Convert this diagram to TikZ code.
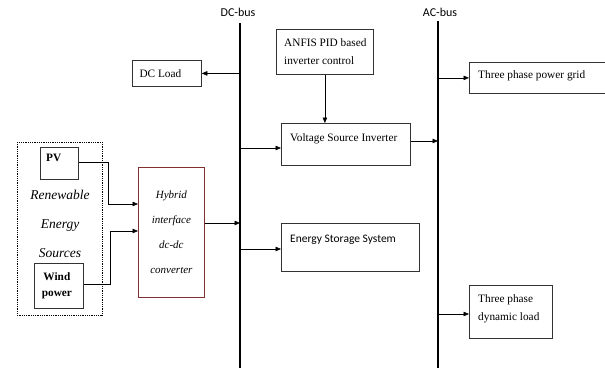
\documentclass[tikz,border=0pt]{standalone}
\usepackage{fontspec}
\setmainfont{Liberation Serif}
\newfontfamily\busfont{Carlito}
\usepackage{tikz,xcolor}
\usetikzlibrary{arrows.meta,calc}
\definecolor{convred}{RGB}{128,48,48}

\begin{document}
\begin{tikzpicture}[x=1pt,y=-1pt,font=\fontsize{11.3}{12.5}\selectfont]
  \useasboundingbox (0,0) rectangle (605,368);
  % Define box and arrow styles
  \tikzset{blockbox/.style={draw=black!80, thick, inner sep=0pt, anchor=north west}}
  \tikzset{busline/.style={black, line width=1.5pt}}
  \tikzset{flow/.style={black, semithick, -{Triangle[length=5.5pt,width=4.5pt]}}}
  % The two buses
  \coordinate (DCtop) at (240,23);  \coordinate (DCbot) at (240,368);
  \coordinate (ACtop) at (438,21);  \coordinate (ACbot) at (438,368);
  \draw[busline] (DCtop) -- (DCbot);
  \draw[busline] (ACtop) -- (ACbot);
  \node (dcbus) at (238,12) {\busfont\fontsize{12}{13}\selectfont DC-bus};
  \node (acbus) at (440,12) {\busfont\fontsize{12}{13}\selectfont AC-bus};
  % Boxes on the DC side
  \node[blockbox, minimum width=69pt, minimum height=26pt] (dcload) at (132,60) {};
  \node[anchor=west] at ($(dcload.west)+(4,0)$) {DC Load};
  \node[blockbox, minimum width=97pt, minimum height=45pt, align=left] (anfis) at (276,29) {};
  \node[anchor=north west, align=left, inner sep=0pt, font=\fontsize{11.3}{18}\selectfont] at ($(anfis.north west)+(8,9)$) {ANFIS PID based\\inverter control};
  \node[blockbox, minimum width=129pt, minimum height=42pt] (vsi) at (281,123) {};
  \node[anchor=north west, inner sep=0pt] at ($(vsi.north west)+(9,10)$) {Voltage Source Inverter};
  \node[blockbox, minimum width=138pt, minimum height=48pt] (ess) at (281,223) {};
  \node[anchor=north west, inner sep=0pt] at ($(ess.north west)+(9,12)$) {\busfont\fontsize{11.5}{13}\selectfont Energy Storage System};
  % Boxes on the AC side
  \node[blockbox, minimum width=136pt, minimum height=31pt] (grid) at (469,62) {};
  \node[anchor=north west, inner sep=0pt] at ($(grid.north west)+(9,8)$) {Three phase power grid};
  \node[blockbox, minimum width=83pt, minimum height=53pt] (dynload) at (469,285) {};
  \node[anchor=north west, inner sep=0pt, align=left, font=\fontsize{11.3}{18}\selectfont] at ($(dynload.north west)+(9,9)$) {Three phase\\dynamic load};
  % Renewable sources
  \draw[black, densely dotted, thick] (17,142) rectangle (102,315);
  \node[blockbox, minimum width=38pt, minimum height=32pt] (pv) at (40,147) {};
  \node[anchor=north west, inner sep=0pt] at ($(pv.north west)+(6,7)$) {\bfseries PV};
  \node[blockbox, minimum width=49pt, minimum height=45pt] (wind) at (34,263) {};
  \node[align=center, inner sep=0pt] at ($(wind.center)+(-2,0)$) {\bfseries Wind\\[3pt]\bfseries power};
  \node[align=center, font=\fontsize{13.5}{29}\selectfont\itshape] (res) at (60,224) {Renewable\\Energy\\Sources};
  \node[draw=convred, thick, inner sep=0pt, anchor=north west, minimum width=66pt, minimum height=130pt,
        align=center, font=\fontsize{11}{25}\selectfont\itshape] (hybrid) at (138,167) {Hybrid\\interface\\dc-dc\\converter};
  % Connectors
  \draw[flow] (pv.east |- 0,162) -| (108,204) -- (hybrid.west |- 0,204);
  \draw[flow] (wind.east |- 0,284) -| (110,231) -- (hybrid.west |- 0,231);
  \draw[flow] (hybrid.east |- 0,223) -- (DCtop |- 0,223);
  \draw[flow] (DCtop |- dcload) -- (dcload.east);
  \draw[flow] (DCtop |- 0,148) -- (vsi.west |- 0,148);
  \draw[flow] (DCtop |- 0,249) -- (ess.west |- 0,249);
  \draw[flow] (anfis.south) -- (anfis.south |- vsi.north);
  \draw[flow] (vsi.east |- 0,141) -- (ACtop |- 0,141);
  \draw[flow] (ACtop |- grid) -- (grid.west);
  \draw[flow] (ACtop |- 0,314) -- (dynload.west |- 0,314);
\end{tikzpicture}
\end{document}
